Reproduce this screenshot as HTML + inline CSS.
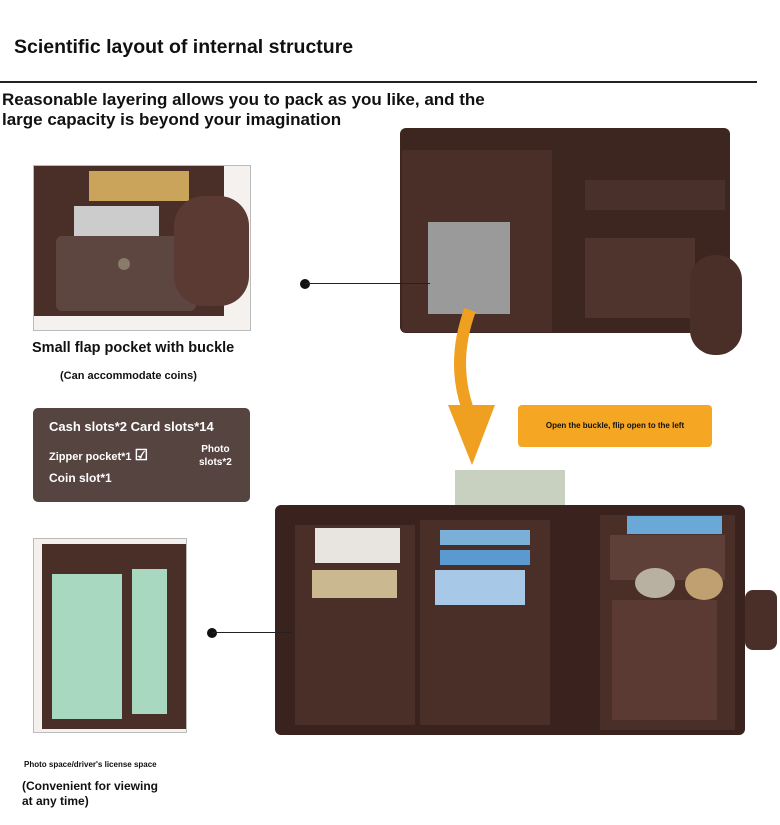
<!DOCTYPE html>
<html><head><meta charset="utf-8"><style>
body{margin:0;width:780px;height:825px;background:#fff;position:relative;overflow:hidden;font-family:"Liberation Sans",sans-serif;font-weight:bold;color:#111}
.a{position:absolute}
.w{background:#4a2f28}
.d{background:#3a231e}
.c{background:#ccc}
</style></head><body>
<div class="a" style="left:14px;top:36px;font-size:19.5px">Scientific layout of internal structure</div>
<div class="a" style="left:0;top:81px;width:757px;height:2px;background:#222"></div>
<div class="a" style="left:2px;top:90px;font-size:17px;line-height:20px">Reasonable layering allows you to pack as you like, and the<br>large capacity is beyond your imagination</div>

<!-- left photo 1 -->
<div class="a" style="left:33px;top:165px;width:216px;height:164px;border:1px solid #bbb;background:#f4f1ee;overflow:hidden">
 <div class="a w" style="left:0;top:0;width:190px;height:150px"></div>
 <div class="a" style="left:55px;top:5px;width:100px;height:30px;background:#c9a45a"></div>
 <div class="a c" style="left:40px;top:40px;width:85px;height:35px"></div>
 <div class="a" style="left:22px;top:70px;width:140px;height:75px;background:#5e4640;border-radius:6px"></div>
 <div class="a" style="left:140px;top:30px;width:75px;height:110px;background:#5a3a32;border-radius:30px"></div>
 <div class="a" style="left:84px;top:92px;width:12px;height:12px;border-radius:50%;background:#8a7a6a"></div>
</div>
<div class="a" style="left:32px;top:340px;font-size:14.5px">Small flap pocket with buckle</div>
<div class="a" style="left:60px;top:370px;font-size:11px">(Can accommodate coins)</div>

<div class="a" style="left:33px;top:408px;width:217px;height:94px;background:#554440;border-radius:5px;color:#fff">
 <div class="a" style="left:16px;top:11px;font-size:13px">Cash slots*2 Card slots*14</div>
 <div class="a" style="left:16px;top:38px;font-size:11px">Zipper pocket*1 <span style="font-size:15px">☑</span></div>
 <div class="a" style="left:166px;top:35px;font-size:10px;text-align:center;line-height:13px">Photo<br>slots*2</div>
 <div class="a" style="left:16px;top:63px;font-size:12px">Coin slot*1</div>
</div>

<!-- left photo 2 -->
<div class="a" style="left:33px;top:538px;width:152px;height:193px;border:1px solid #bbb;background:#f3f0ed;overflow:hidden">
 <div class="a w" style="left:8px;top:5px;width:145px;height:185px"></div>
 <div class="a" style="left:18px;top:35px;width:70px;height:145px;background:#a9d8c0"></div>
 <div class="a" style="left:98px;top:30px;width:35px;height:145px;background:#a9d8c0"></div>
</div>
<div class="a" style="left:24px;top:760px;font-size:8px">Photo space/driver's license space</div>
<div class="a" style="left:22px;top:779px;font-size:12px;line-height:15px">(Convenient for viewing<br>at any time)</div>

<!-- top wallet -->
<div class="a" style="left:400px;top:128px;width:330px;height:205px;background:#3d2520;border-radius:6px"></div>
<div class="a w" style="left:402px;top:150px;width:150px;height:182px"></div>
<div class="a" style="left:428px;top:222px;width:82px;height:92px;background:#9a9a9a"></div>
<div class="a" style="left:585px;top:180px;width:140px;height:30px;background:#4a302a"></div>
<div class="a" style="left:585px;top:238px;width:110px;height:80px;background:#4f342d"></div>
<div class="a" style="left:690px;top:255px;width:52px;height:100px;background:#4a2f28;border-radius:25px"></div>
<div class="a" style="left:300px;top:279px;width:10px;height:10px;border-radius:50%;background:#111"></div>
<div class="a" style="left:305px;top:283px;width:125px;height:1px;background:#222"></div>

<svg class="a" style="left:440px;top:305px" width="80" height="165"><path d="M30 5 Q10 60 30 110" stroke="#f0a020" stroke-width="12" fill="none"/><polygon points="8,100 55,100 32,160" fill="#f0a020"/></svg>
<div class="a" style="left:518px;top:405px;width:194px;height:42px;background:#f5a623;border-radius:4px;font-size:8px;line-height:42px;text-align:center">Open the buckle, flip open to the left</div>

<!-- bottom wallet -->
<div class="a" style="left:455px;top:470px;width:110px;height:50px;background:#c8d0c0"></div>
<div class="a" style="left:275px;top:505px;width:470px;height:230px;background:#3a231e;border-radius:6px"></div>
<div class="a w" style="left:295px;top:525px;width:120px;height:200px"></div>
<div class="a w" style="left:420px;top:520px;width:130px;height:205px"></div>
<div class="a w" style="left:600px;top:515px;width:135px;height:215px"></div>
<div class="a" style="left:315px;top:528px;width:85px;height:35px;background:#e8e4e0"></div>
<div class="a" style="left:312px;top:570px;width:85px;height:28px;background:#c9b890"></div>
<div class="a" style="left:440px;top:530px;width:90px;height:15px;background:#7ab0d8"></div>
<div class="a" style="left:440px;top:550px;width:90px;height:15px;background:#5a9ad0"></div>
<div class="a" style="left:435px;top:570px;width:90px;height:35px;background:#a8c8e8"></div>
<div class="a" style="left:627px;top:516px;width:95px;height:18px;background:#6aa8d8"></div>
<div class="a" style="left:610px;top:535px;width:115px;height:45px;background:#5e4038"></div>
<div class="a" style="left:635px;top:568px;width:40px;height:30px;border-radius:50%;background:#b8b0a0"></div>
<div class="a" style="left:685px;top:568px;width:38px;height:32px;border-radius:50%;background:#c0a070"></div>
<div class="a" style="left:612px;top:600px;width:105px;height:120px;background:#5a3a32"></div>
<div class="a" style="left:745px;top:590px;width:32px;height:60px;background:#4a2f28;border-radius:8px"></div>
<div class="a" style="left:207px;top:628px;width:10px;height:10px;border-radius:50%;background:#111"></div>
<div class="a" style="left:212px;top:632px;width:80px;height:1px;background:#222"></div>
</body></html>
